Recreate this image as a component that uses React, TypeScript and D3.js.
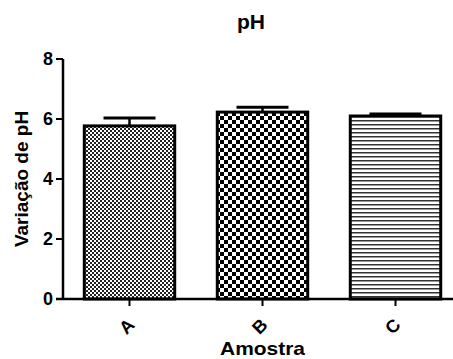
import React, { useEffect, useRef } from "react";
import * as d3 from "d3";

const categories = ["A", "B", "C"];
const means = [5.77, 6.23, 6.1];
const errors = [0.26, 0.16, 0.07];
const yTicks = [0, 2, 4, 6, 8];
const patterns = ["patA", "patB", "patC"];

export default function App() {
  const ref = useRef<SVGSVGElement>(null);
  useEffect(() => {
    const svg = d3.select(ref.current);
    svg.selectAll("*").remove();
    const W = 453, H = 359;
    const x0 = 63, y0 = 299;
    const y = d3.scaleLinear().domain([0, 8]).range([y0, 59]);
    const x = d3.scalePoint<string>().domain(categories).range([x0, 462]).padding(0.5);
    const bw = x.step() * 0.68;
    const font = "'Liberation Sans', Arial, sans-serif";

    const defs = svg.append("defs");
    const pA = defs.append("pattern").attr("id", "patA").attr("patternUnits", "userSpaceOnUse").attr("width", 4).attr("height", 4);
    pA.append("rect").attr("width", 4).attr("height", 4).attr("fill", "#fff");
    pA.append("rect").attr("width", 2).attr("height", 2).attr("fill", "#222");
    pA.append("rect").attr("x", 2).attr("y", 2).attr("width", 2).attr("height", 2).attr("fill", "#222");
    const pB = defs.append("pattern").attr("id", "patB").attr("patternUnits", "userSpaceOnUse").attr("width", 8).attr("height", 8);
    pB.append("rect").attr("width", 8).attr("height", 8).attr("fill", "#fff");
    pB.append("rect").attr("width", 4).attr("height", 4).attr("fill", "#000");
    pB.append("rect").attr("x", 4).attr("y", 4).attr("width", 4).attr("height", 4).attr("fill", "#000");
    const pC = defs.append("pattern").attr("id", "patC").attr("patternUnits", "userSpaceOnUse").attr("width", 4).attr("height", 4);
    pC.append("rect").attr("width", 4).attr("height", 4).attr("fill", "#fff");
    pC.append("rect").attr("y", 0).attr("width", 4).attr("height", 1.5).attr("fill", "#333");

    svg.append("rect").attr("width", W).attr("height", H).attr("fill", "#fff");

    const g = svg.append("g");
    categories.forEach((c, i) => {
      const cx = x(c)!;
      g.append("line").attr("x1", cx).attr("x2", cx).attr("y1", y(means[i])).attr("y2", y(means[i] + errors[i]))
        .attr("stroke", "#000").attr("stroke-width", 2.5);
      g.append("line").attr("x1", cx - 26).attr("x2", cx + 26).attr("y1", y(means[i] + errors[i])).attr("y2", y(means[i] + errors[i]))
        .attr("stroke", "#000").attr("stroke-width", 3);
      g.append("rect").attr("x", cx - bw / 2).attr("y", y(means[i])).attr("width", bw).attr("height", y0 - y(means[i]))
        .attr("fill", `url(#${patterns[i]})`).attr("stroke", "#000").attr("stroke-width", 3);
    });

    svg.append("line").attr("x1", x0).attr("x2", x0).attr("y1", y(8)).attr("y2", y0).attr("stroke", "#000").attr("stroke-width", 2.5);
    svg.append("line").attr("x1", 56).attr("x2", 453).attr("y1", y0).attr("y2", y0).attr("stroke", "#000").attr("stroke-width", 2.5);
    yTicks.forEach((t) => {
      svg.append("line").attr("x1", 56).attr("x2", x0).attr("y1", y(t)).attr("y2", y(t)).attr("stroke", "#000").attr("stroke-width", 2);
      svg.append("text").attr("x", 53).attr("y", y(t)).attr("dy", "0.36em").attr("text-anchor", "end")
        .attr("font-family", font).attr("font-weight", "bold").attr("font-size", 18).text(String(t));
    });
    categories.forEach((c) => {
      const cx = x(c)!;
      svg.append("line").attr("x1", cx).attr("x2", cx).attr("y1", y0).attr("y2", y0 + 7).attr("stroke", "#000").attr("stroke-width", 2);
      svg.append("text").attr("transform", `translate(${cx - 3},${y0 + 27}) rotate(-45)`).attr("text-anchor", "middle")
        .attr("dy", "0.36em").attr("font-family", font).attr("font-weight", "bold").attr("font-size", 18).text(c);
    });

    svg.append("text").attr("x", 251).attr("y", 29).attr("text-anchor", "middle").attr("font-family", font)
      .attr("font-weight", "bold").attr("font-size", 21).text("pH");
    svg.append("text").attr("x", x(categories[1])!).attr("y", 355).attr("text-anchor", "middle").attr("font-family", font)
      .attr("font-weight", "bold").attr("font-size", 19).attr("textLength", 85).attr("lengthAdjust", "spacingAndGlyphs").text("Amostra");
    svg.append("text").attr("transform", `translate(28,${179}) rotate(-90)`).attr("text-anchor", "middle").attr("font-family", font)
      .attr("font-weight", "bold").attr("font-size", 19).text("Variação de pH");
  }, []);
  return <svg ref={ref} width={453} height={359} style={{ position: "absolute", left: 0, top: 0 }} />;
}
